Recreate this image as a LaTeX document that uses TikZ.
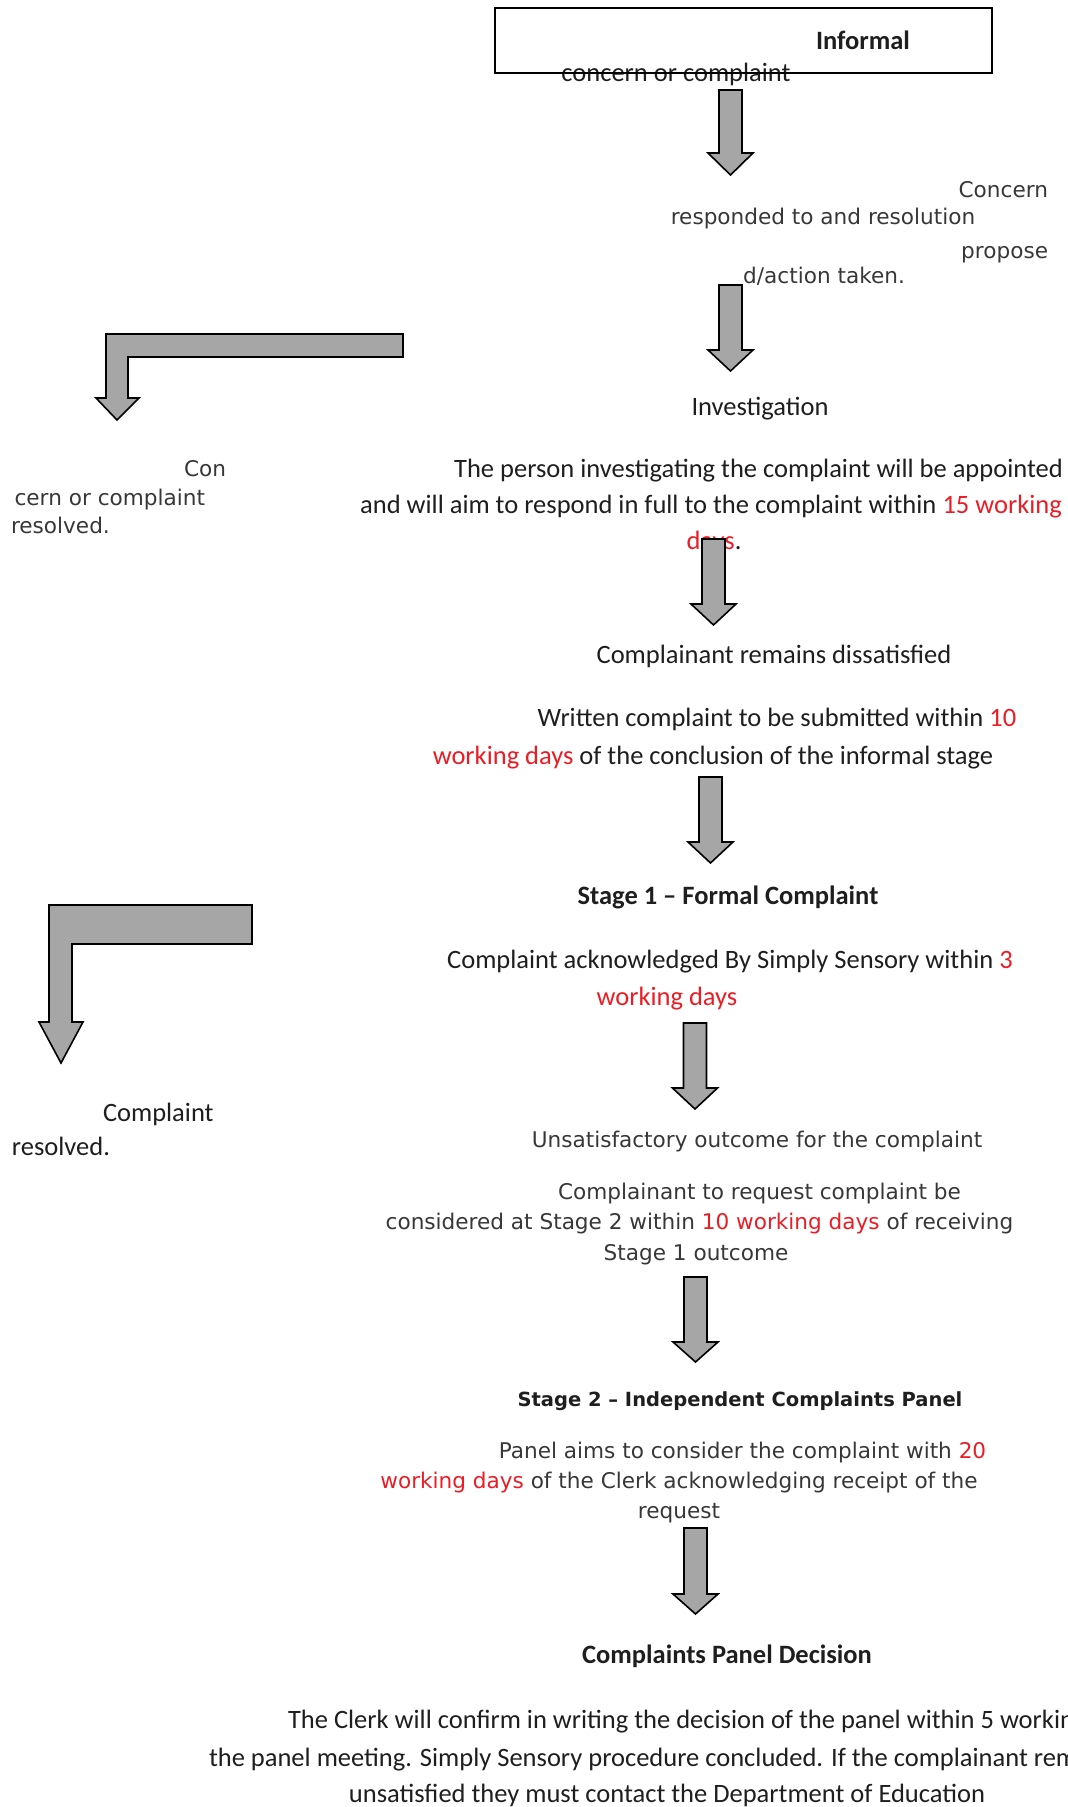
\documentclass[tikz,border=0pt]{standalone}
\usepackage{fontspec}
\setmainfont{Carlito}
\newfontfamily\widefont{DejaVu Sans}
\definecolor{redtxt}{RGB}{236,28,36}
\definecolor{arrowgrey}{RGB}{166,166,166}
\definecolor{maintxt}{RGB}{30,30,30}
\definecolor{widetxt}{RGB}{55,55,55}
\newcommand\rt[1]{\textcolor{redtxt}{#1}}
\newcommand\downblock[4]{%
  \draw[blockarrow] (#1-11.5,#2) -- (#1+11.5,#2) -- (#1+11.5,#3) -- (#1+22.5,#3)
    -- (#1,#4) -- (#1-22.5,#3) -- (#1-11.5,#3) -- cycle;}
\tikzset{
  txt/.style={inner sep=0pt, outer sep=0pt, anchor=base, text=maintxt,
    font=\fontsize{26.5}{32}\selectfont},
  btxt/.style={txt, font=\bfseries\fontsize{26.5}{32}\selectfont},
  wtxt/.style={txt, text=widetxt, font=\widefont\fontsize{21.6}{26}\selectfont},
  wbtxt/.style={txt, font=\widefont\bfseries\fontsize{19.5}{24}\selectfont},
  blockarrow/.style={fill=arrowgrey, draw=black, line width=1.6pt, line join=miter},
  topbox/.style={draw=black, line width=1.8pt, fill=none},
}
\begin{document}
\begin{tikzpicture}[x=1pt,y=-1pt]
\useasboundingbox (0,0) rectangle (1068,1807);
\clip (0,0) rectangle (1068,1807);

% ---------- informal stage ----------
\node[txt] (concern0) at (676,81) {concern or complaint};
\draw[topbox] (495,8) rectangle (992,73);
\node[btxt] (informal) at (863,49) {Informal};

\node[wtxt, anchor=base east] (w1) at (1048,197) {Concern};
\node[wtxt] (w2) at (823,224) {responded to and resolution};
\node[wtxt, anchor=base east] (w3) at (1048,258) {propose};
\node[wtxt] (w4) at (824,283) {d/action taken.};

\node[txt] (inv) at (760,415) {Investigation};
\node[txt] (p1) at (758.5,477) {The person investigating the complaint will be appointed};
\node[txt] (p2) at (711,513) {and will aim to respond in full to the complaint within \rt{15 working}};
\node[txt] (p3) at (714,549) {\rt{days}.};

% left branch 1
\node[wtxt] (con) at (205,476) {Con};
\node[wtxt, anchor=base east] (cern) at (205,505) {cern or complaint};
\node[wtxt, anchor=base west] (res1) at (11,533) {resolved.};

\node[txt] (dissat) at (774,663) {Complainant remains dissatisfied};
\node[txt] (wr1) at (777,726) {Written complaint to be submitted within \rt{10}};
\node[txt] (wr2) at (713,764) {\rt{working days} of the conclusion of the informal stage};

% ---------- stage 1 ----------
\node[btxt] (stage1) at (728,904) {Stage 1 – Formal Complaint};
\node[txt] (ack1) at (730,968) {Complaint acknowledged By Simply Sensory within \rt{3}};
\node[txt] (ack2) at (667,1005) {\rt{working days}};

% left branch 2
\node[txt, anchor=base west] (cmpl) at (103,1121) {Complaint};
\node[txt, anchor=base west] (res2) at (12,1155) {resolved.};

\node[wtxt] (unsat) at (757,1147) {Unsatisfactory outcome for the complaint};
\node[wtxt] (rq1) at (759.5,1199) {Complainant to request complaint be};
\node[wtxt] (rq2) at (699.5,1229) {considered at Stage 2 within \rt{10 working days} of receiving};
\node[wtxt] (rq3) at (696,1260) {Stage 1 outcome};

% ---------- stage 2 ----------
\node[wbtxt] (stage2) at (740,1406) {Stage 2 – Independent Complaints Panel};
\node[wtxt] (pn1) at (742.5,1458) {Panel aims to consider the complaint with \rt{20}};
\node[wtxt] (pn2) at (679,1488) {\rt{working days} of the Clerk acknowledging receipt of the};
\node[wtxt] (pn3) at (679,1518) {request};

\node[btxt] (decision) at (727,1663) {Complaints Panel Decision};
\node[txt, anchor=base west] (f1) at (288,1728) {The Clerk will confirm in writing the decision of the panel within 5 working days of};
\node[txt, anchor=base west] (f2) at (209,1766) {the panel meeting. Simply Sensory procedure concluded. If the complainant remains};
\node[txt] (f3) at (667,1802) {unsatisfied they must contact the Department of Education};

% ---------- block arrows ----------
\downblock{730.5}{90}{153}{175}
\downblock{730.5}{285}{350}{371}
\downblock{713.5}{539}{604}{625}
\downblock{710.5}{777}{842}{863}
\downblock{695}{1023}{1088}{1109}
\downblock{695.5}{1277}{1342}{1362}
\downblock{695.5}{1528}{1594}{1614}

% L-shaped arrows
\draw[blockarrow] (403,334) -- (106,334) -- (106,398) -- (96,398) -- (117,420)
  -- (139,398) -- (128,398) -- (128,357) -- (403,357) -- cycle;
\draw[blockarrow] (252,905) -- (49,905) -- (49,1022) -- (39,1022) -- (61,1063)
  -- (83,1022) -- (72,1022) -- (72,944) -- (252,944) -- cycle;
\end{tikzpicture}
\end{document}
